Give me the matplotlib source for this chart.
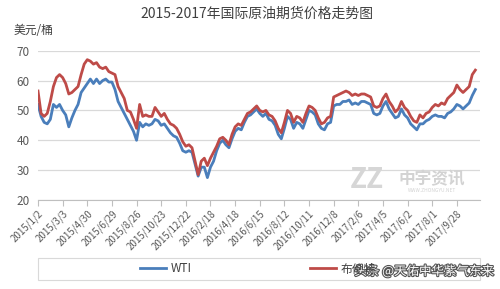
import matplotlib
matplotlib.use("Agg")
import matplotlib.pyplot as plt
import matplotlib.patheffects as pe
from matplotlib.patches import Rectangle

plt.rcParams['font.family'] = ['Noto Sans CJK SC', 'DejaVu Sans']

title = "2015-2017年国际原油期货价格走势图"
ylabel = "美元/桶"

# weekly samples (~5 trading days each)
wti = [52, 48, 46, 45.5, 47, 52, 51, 52, 50, 48.5,
       44.5, 47.5, 50, 52, 56, 57.5, 59, 60.5, 59, 60.5,
       59, 60, 60.5, 59.5, 59.5, 57, 53, 51, 49, 47,
       45, 43, 40, 46, 44.5, 45.5, 45, 45.5, 47, 46.5,
       45, 45.5, 44, 42.5, 41.5, 41, 39, 36.5, 36, 36.5,
       36, 32, 28, 31, 31, 27.5, 31, 33, 36.5, 39,
       40, 38.5, 37.5, 40.5, 43, 44, 43.5, 46, 48, 48.5,
       49.5, 50.5, 49, 48, 49, 47, 46.5, 45, 42, 40.5,
       44, 48, 47, 44, 46, 45.5, 44, 47, 50, 49.5,
       48.5, 45.5, 44, 43.5, 45.5, 46, 51.5, 52, 52, 53,
       53, 53.5, 52, 52.5, 52, 53, 53, 52.5, 52, 49,
       48.5, 49, 51.5, 53, 50.5, 49, 47.5, 48, 50.5, 48.5,
       47.5, 45.5, 44.5, 43.5, 45.5, 45.5, 46.5, 47, 48, 48.5,
       48, 48, 47.5, 49, 49.5, 50.5, 52, 51.5, 50.5, 51.5,
       52.5, 55, 57]
brent = [56.5, 49, 48, 49, 53, 58, 61, 62, 61, 59,
         55.5, 56, 57, 58, 62, 65.5, 67, 66.5, 65.5, 66,
         64.5, 64, 64.5, 63, 62.5, 62, 58, 56, 54, 50,
         49.5, 47, 44, 52, 48, 48.5, 48, 48, 51, 49.5,
         48, 49, 47, 45.5, 45, 44, 42, 39.5, 38, 38.5,
         37.5, 33, 28.5, 33, 34, 31.5, 34, 36, 38, 40.5,
         41, 40, 38.5, 42, 44.5, 45.5, 45, 47, 49, 49.5,
         50.5, 51.5, 50, 49.5, 50, 48.5, 48, 46.5, 44, 42.5,
         46, 50, 49, 46, 48, 47.5, 46, 49, 51.5, 51,
         50, 47.5, 45.5, 46, 47.5, 48, 54.5, 55, 55.5, 56,
         56.5, 56, 55, 55.5, 55, 55.5, 55.5, 55, 54.5, 51.5,
         51, 51.5, 54, 55.5, 53, 51.5, 49.5, 50.5, 53, 51,
         50, 48, 46.5, 46, 48.5, 47.5, 49, 49.5, 51, 52,
         51.5, 52.5, 52, 54, 55, 56, 58.5, 57, 56, 57,
         58, 62, 63.5]
tick_labels = ["2015/1/2", "2015/3/3", "2015/4/30", "2015/6/29", "2015/8/26",
               "2015/10/23", "2015/12/22", "2016/2/18", "2016/4/18", "2016/6/15",
               "2016/8/12", "2016/10/11", "2016/12/8", "2017/2/6", "2017/4/5",
               "2017/6/2", "2017/8/1", "2017/9/28"]
tick_step = 8  # samples between labelled ticks
series_names = ["WTI", "布伦特"]

W, H = 500, 289
fig = plt.figure(figsize=(W / 100, H / 100), dpi=100)
ax = fig.add_axes([38 / W, 1 - 200 / H, 442 / W, (200 - 50.7) / H])

blue = "#4a7ebb"
red = "#be4b48"
x = list(range(len(wti)))
l1, = ax.plot(x, wti, color=blue, lw=2.0, solid_joinstyle='round')
l2, = ax.plot(x, brent, color=red, lw=2.0, solid_joinstyle='round')

ax.set_ylim(20, 70)
ax.set_xlim(0, (480 - 38) / 3.08)
ax.set_yticks(range(20, 71, 10))
ax.yaxis.grid(True, color="#d9d9d9", lw=0.9)
ax.set_axisbelow(True)
for s in ["left", "right", "top"]:
    ax.spines[s].set_visible(False)
ax.spines["bottom"].set_color("#bfbfbf")
ax.tick_params(axis='y', length=0, labelsize=8.5, labelcolor="#595959", pad=6)
ax.set_xticks([i * tick_step for i in range(len(tick_labels))])
ax.set_xticklabels(tick_labels, rotation=45, ha='right', rotation_mode='anchor',
                   fontsize=7, color="#595959")
ax.tick_params(axis='x', length=4, color="#bfbfbf", pad=2)

fig.text(257 / W, 1 - 14 / H, title, ha='center', va='center', fontsize=10, color="#404040")
fig.text(14 / W, 1 - 30 / H, ylabel, ha='left', va='center', fontsize=8.5, color="#404040")

# watermark logo
fig.text(367 / W, 1 - 180 / H, "ZZ", ha='center', va='center', fontsize=20,
         fontweight='bold', color="#d6d6d6", style='italic')
fig.text(432 / W, 1 - 179 / H, "中宇资讯", ha='center', va='center', fontsize=12,
         fontweight='bold', color="#d3d3d3")
fig.text(432 / W, 1 - 190 / H, "WWW.ZHONGYU.NET", ha='center', va='center', fontsize=3.5,
         color="#d3d3d3")

# legend box
fig.patches.append(Rectangle((38 / W, 1 - 280 / H), 442 / W, 22 / H, transform=fig.transFigure,
                             fill=False, edgecolor="#d9d9d9", lw=0.8))
fig.legend([l1, l2], series_names, loc='center', bbox_to_anchor=(258 / W, 1 - 269 / H),
           ncol=2, frameon=False, fontsize=8.5, columnspacing=10, handlelength=2.2,
           handletextpad=0.4, labelcolor="#404040")

wm = fig.text(494 / W, 1 - 271 / H, "头条 @天佑中华紫气东来", ha='right', va='center',
              fontsize=9, color="white")
wm.set_path_effects([pe.withStroke(linewidth=1.6, foreground="#555555")])

fig.savefig("out.png", dpi=100)
